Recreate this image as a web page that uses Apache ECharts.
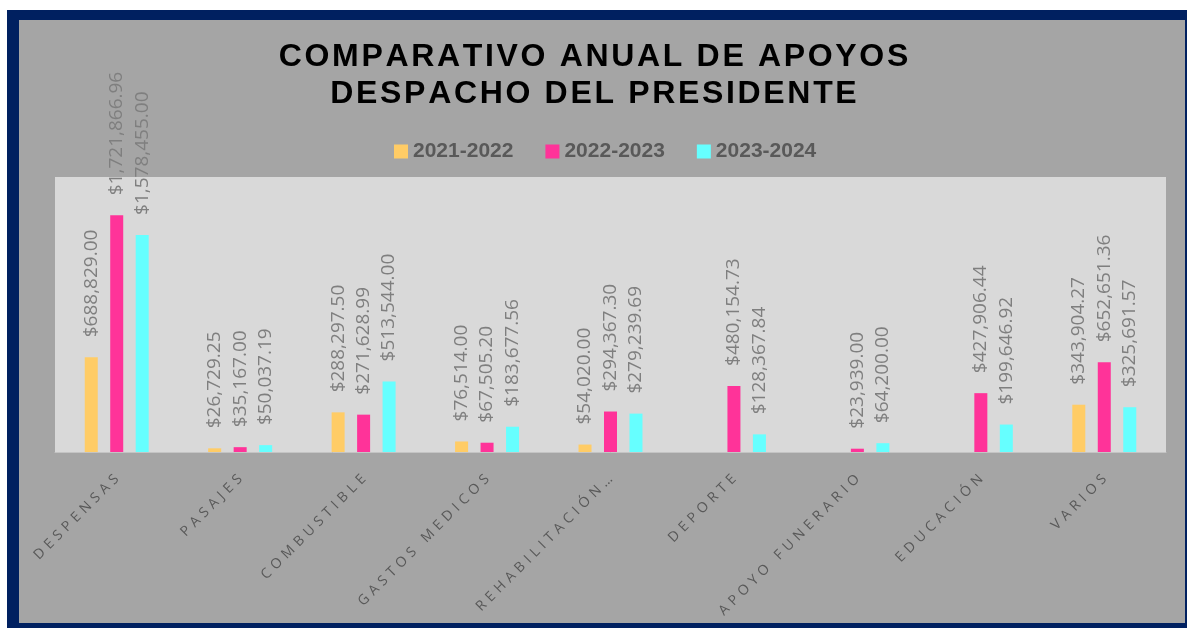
<!DOCTYPE html>
<html>
<head>
<meta charset="utf-8">
<script src="https://cdn.jsdelivr.net/npm/echarts@6/dist/echarts.min.js"></script>
<style>
html,body{margin:0;padding:0;background:#fff;}
#chart{width:1187px;height:628px;}
</style>
</head>
<body>
<div id="chart"></div>
<script>
const titleLines = ['COMPARATIVO ANUAL DE APOYOS', 'DESPACHO DEL PRESIDENTE'];
const categories = ['DESPENSAS', 'PASAJES', 'COMBUSTIBLE', 'GASTOS MEDICOS', 'REHABILITACIÓN…', 'DEPORTE', 'APOYO FUNERARIO', 'EDUCACIÓN', 'VARIOS'];
const seriesNames = ['2021-2022', '2022-2023', '2023-2024'];
const values2021 = [688829.00, 26729.25, 288297.50, 76514.00, 54020.00, null, null, null, 343904.27];
const values2022 = [1721866.96, 35167.00, 271628.99, 67505.20, 294367.30, 480154.73, 23939.00, 427906.44, 652651.36];
const values2023 = [1578455.00, 50037.19, 513544.00, 183677.56, 279239.69, 128367.84, 64200.00, 199646.92, 325691.57];
const colors = ['#FFCC66', '#FF3399', '#66FFFF'];

const spaced = (s, sp) => s.split('').join(sp);
const money = v => '$' + Number(v).toLocaleString('en-US', {minimumFractionDigits: 2, maximumFractionDigits: 2});

const chart = echarts.init(document.getElementById('chart'));
const allData = [values2021, values2022, values2023];

chart.setOption({
  backgroundColor: '#ffffff',
  animation: false,
  graphic: [
    {type: 'rect', z: -10, silent: true, shape: {x: 7, y: 10, width: 1185, height: 625}, style: {fill: '#002060'}},
    {type: 'rect', z: -9, silent: true, shape: {x: 19, y: 20, width: 1166, height: 603}, style: {fill: '#A5A5A5'}}
  ],
  title: {
    text: titleLines.map(l => spaced(l, '\u200A')).join('\n'),
    left: 'center',
    top: 34,
    textStyle: {fontFamily: 'Liberation Sans', fontWeight: 'bold', fontSize: 32, color: '#000', lineHeight: 37}
  },
  legend: {
    data: seriesNames,
    left: 394,
    top: 141,
    padding: 0,
    itemWidth: 14,
    itemHeight: 14,
    itemGap: 32,
    icon: 'rect',
    textStyle: {fontFamily: 'Liberation Sans', fontWeight: 'bold', fontSize: 21, color: '#595959'}
  },
  grid: {
    left: 55, right: 21, top: 177, bottom: 176,
    show: true, backgroundColor: '#D9D9D9', borderWidth: 0
  },
  xAxis: {
    type: 'category',
    data: categories,
    axisTick: {show: false},
    axisLine: {show: true, lineStyle: {color: '#C4C4C4', width: 1}},
    axisLabel: {
      rotate: 45, interval: 0, margin: 25,
      color: '#595959', fontFamily: 'Open Sans', fontSize: 14,
      formatter: v => spaced(v, '\u2004')
    }
  },
  yAxis: {
    type: 'value', min: 0, max: 2000000,
    show: false, splitLine: {show: false}
  },
  series: seriesNames.map((name, i) => ({
    name: name,
    type: 'bar',
    data: allData[i],
    barWidth: 13,
    barGap: '96%',
    itemStyle: {color: colors[i]},
    label: {
      show: true, position: 'top', rotate: 90, align: 'left', verticalAlign: 'middle',
      distance: 20,
      color: '#7F7F7F', fontFamily: 'Open Sans', fontSize: 19,
      formatter: p => p.value == null ? '' : money(p.value)
    }
  }))
});
</script>
</body>
</html>
